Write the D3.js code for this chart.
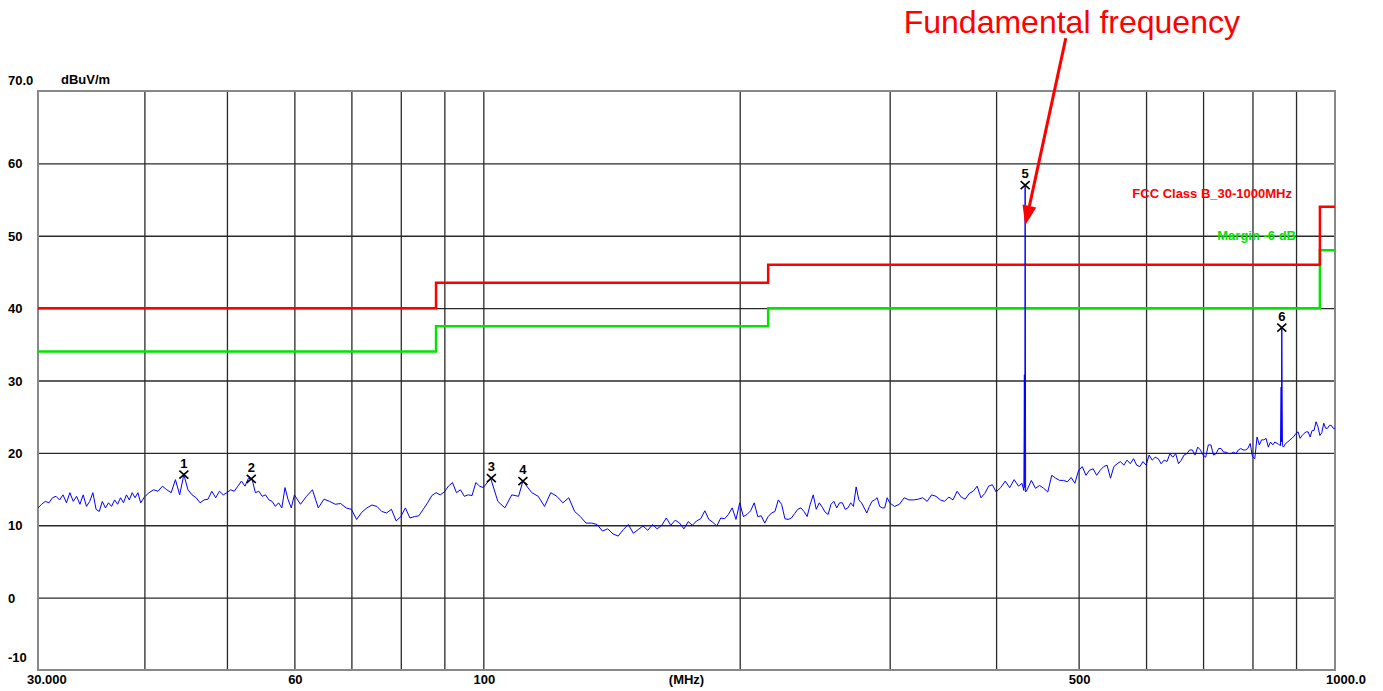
<!DOCTYPE html>
<html>
<head>
<meta charset="utf-8">
<script src="https://cdn.jsdelivr.net/npm/d3@7"></script>
<style>
    html, body { margin: 0; padding: 0; background: #fff; }
    svg { display: block; }
    .lbl { font-family: "Liberation Sans", Arial, sans-serif; font-weight: bold; font-size: 13px; fill: #000; }
</style>
</head>
<body>
<div id="chart"></div>
<script>
// ── Data ──

// vertical / horizontal grid
const gridFreqs = [40, 50, 60, 70, 80, 90, 100, 200, 300, 400, 500, 600, 700, 800, 900];
const gridLevels = [0, 10, 20, 30, 40, 50, 60];

// tick labels
const levelLabels = [60, 50, 40, 30, 20, 10, 0];
const freqLabelValues = [60, 100, 500];
const freqLabelText = ['60', '100', '500'];

// limit lines (MHz / dBuV/m)
const limitFreq = [30, 88, 88, 216, 216, 960, 960, 1000];
const limitDb   = [40, 40, 43.5, 43.5, 46, 46, 54, 54];
const marginDb  = [34, 34, 37.5, 37.5, 40, 40, 48, 48];

// peak markers
const markerIds  = ['1', '2', '3', '4', '5', '6'];
const markerFreq = [44.5, 53.4, 102.2, 111.3, 432.7, 866];
const markerDb   = [17.0, 16.4, 16.5, 16.1, 57.0, 37.3];

// annotation arrow: [MHz, dB]
const arrowFrom = [483, 77.3];
const arrowTo   = [432.7, 51.4];

// measured trace [MHz, dBuV/m]
const trace = [
    [30.0,12.4],[30.3,12.9],[30.6,13.3],[30.9,13.1],[31.2,13.8],[31.5,14.0],[31.8,13.5],[32.1,14.2],[32.4,13.1],[32.7,14.5],
    [33.0,13.3],[33.3,14.0],[33.6,12.9],[33.9,14.2],[34.2,12.6],[34.5,13.3],[34.8,14.5],[35.1,12.2],[35.4,11.9],[35.7,13.3],
    [36.0,12.4],[36.3,13.1],[36.6,12.6],[36.9,13.5],[37.2,12.9],[37.5,13.8],[37.8,13.1],[38.1,14.2],[38.4,13.5],[38.7,14.5],
    [39.0,13.8],[39.3,14.5],[39.6,13.1],[40.0,13.9],
    [40.5,14.5],[41.0,14.9],[41.5,14.7],[42.0,15.4],[42.5,14.9],[43.0,14.5],[43.5,16.3],[44.0,14.2],[44.5,17.0],[45.0,14.9],
    [45.5,14.2],[46.0,13.8],[46.5,13.1],[47.0,13.5],[47.5,13.6],[48.0,14.7],[48.5,13.8],[49.0,14.7],[49.5,14.2],[50.0,14.5],
    [50.5,14.9],[51.0,14.7],[51.5,15.4],[52.0,16.1],[52.5,15.4],[53.0,16.5],[53.5,16.4],[54.0,14.5],[54.5,14.7],[55.0,14.0],
    [55.5,14.2],[56.0,13.5],[56.5,13.3],[57.0,12.6],[57.5,13.1],[58.0,12.4],[58.5,15.2],[59.0,13.5],[59.5,12.4],[60.0,14.2],
    [61,12.9],[62,14.0],[63,14.9],[64,12.4],[65,13.6],[66,13.3],[67,12.9],[68,13.0],[69,12.4],[70,12.2],
    [71,10.8],[72,11.8],[73,12.4],[74,12.8],[75,12.6],[76,11.9],[77,11.7],[78,12.2],[79,10.6],[80,11.2],
    [81,12.4],[82,11.0],[83,11.2],[84,11.3],[85,12.2],[86,13.1],[87,14.1],[88,14.5],[89,14.2],[90,14.6],
    [91,15.4],[92,15.9],[93,14.5],[94,14.9],[95,14.0],[96,14.2],[97,14.1],[98,15.9],[99,15.4],[100,15.2],
    [102,16.5],[104,13.3],[106,12.4],[108,14.2],[110,14.0],[111.3,16.1],[114,14.5],[116,14.0],[118,12.6],[120,14.5],
    [122,14.0],[124,13.1],[126,13.8],[128,11.9],[130,11.2],[132,10.3],[134,10.3],[136,10.1],[138,9.2],[140,9.5],
    [142,8.8],[144,8.5],[146,9.4],[148,10.1],[150,8.9],[152,9.4],[154,9.9],[156,9.3],[158,10.1],[160,9.5],
    [162,10.0],[164,11.0],[166,10.0],[168,10.7],[170,10.3],[172,9.5],[174,10.5],[176,10.0],[178,10.6],[180,10.9],
    [182,12.0],[184,10.8],[186,10.4],[188,9.9],[190,11.0],[192,10.9],[194,11.5],[196,12.4],[198,10.8],[200,13.1],
    [202,11.2],[204,11.5],[206,12.0],[208,13.1],[210,11.2],[212,11.3],[214,10.3],[216,11.2],[218,11.7],[220,11.9],
    [222,13.5],[224,12.9],[226,10.9],[228,10.8],[230,11.0],[232,11.6],[234,12.2],[236,12.4],[238,11.9],[240,11.2],
    [242,12.9],[244,14.2],[246,12.2],[248,13.1],[250,12.5],[252,11.8],[254,11.5],[256,12.9],[258,13.3],[260,12.4],
    [262,13.1],[264,13.1],[266,12.2],[268,12.4],[270,13.1],[272,12.6],[274,15.3],[276,13.5],[278,13.1],[280,12.4],
    [282,11.7],[284,12.6],[286,13.3],[288,13.5],[290,13.8],[292,12.6],[294,12.4],[296,12.4],[298,13.8],[300,13.1],
    [304,12.6],[308,12.9],[312,13.8],[316,13.5],[320,13.5],
    [324,13.6],[328,13.8],[332,13.3],[336,14.2],[340,14.0],[344,13.5],[348,13.3],[352,13.9],[356,13.5],[360,14.7],
    [364,13.9],[368,13.6],[372,14.4],[376,14.7],[380,15.4],[384,13.8],[388,14.4],[392,15.4],[396,15.6],[400,14.6],
    [405,15.2],[410,16.1],[415,15.2],[420,16.3],[425,15.4],[429,15.8],[431.2,14.8],[431.8,30.8],[432.2,15.2],[432.7,57.0],
    [433.3,14.6],[435,14.9],[440,16.2],[445,15.1],[450,15.5],[455,15.1],[460,14.6],[465,16.9],[470,16.5],[475,16.2],
    [480,16.2],[485,16.0],[490,16.6],[495,15.8],[500,17.6],[505,18.1],[510,16.9],[515,17.6],[520,17.8],[525,16.9],
    [530,17.6],[535,18.1],[540,18.3],[545,16.5],[550,18.1],[555,18.5],[560,18.8],[565,18.3],[570,19.0],[575,18.5],
    [580,19.2],[585,18.3],[590,18.1],[595,18.8],[600,18.3],
    [605,19.7],[610,19.0],[615,19.4],[620,19.2],[625,18.5],[630,19.0],[635,18.8],[640,19.9],[645,19.4],[650,19.9],
    [655,18.5],[660,19.0],[665,19.7],[670,19.9],[675,20.4],[680,20.4],[685,19.7],[690,20.8],[695,20.4],[700,19.7],
    [705,19.4],[710,21.1],[715,21.1],[720,19.7],[725,19.9],[730,20.6],[735,20.6],[740,20.1],[745,20.1],[750,19.9],
    [755,19.9],[760,20.1],[765,19.9],[770,20.4],[775,20.6],[780,20.4],[785,20.4],[790,20.6],[795,21.3],[800,19.5],
    [805,19.2],[810,22.2],[815,21.1],[820,21.8],[825,21.8],[830,22.0],[835,20.8],[840,21.5],[845,21.1],[850,21.5],
    [858,21.2],[863,21.0],[864.5,29.1],[865,21.5],[866,37.3],[867.5,21.0],[870,20.8],[875,21.3],[880,21.5],[885,21.8],
    [890,22.0],[895,22.3],[900,22.7],[905,22.9],[910,22.0],[915,22.4],[920,22.7],[925,22.9],[930,22.9],[935,22.2],
    [940,23.1],[945,23.1],[950,24.3],[955,23.6],[960,22.4],[965,22.8],[970,24.1],[975,23.4],[980,23.4],[985,23.8],
    [990,23.8],[995,23.4],[1000,23.4]
];

// ── Layout ──
const W = 1383, H = 691;
const plot = { left: 38, right: 1335, top: 91, bottom: 670 };

const RED = '#ff0000';
const GREEN = '#00e400';

const svg = d3.select('#chart')
    .append('svg')
    .attr('width', W)
    .attr('height', H);

const x = d3.scaleLog().domain([30, 1000]).range([plot.left, plot.right]);
const y = d3.scaleLinear().domain([-10, 70]).range([plot.bottom, plot.top]);

svg.append('defs').append('clipPath').attr('id', 'plotClip')
    .append('rect')
    .attr('x', plot.left).attr('y', 0)
    .attr('width', plot.right - plot.left).attr('height', plot.bottom);

// Grid
const xGrid = svg.append('g')
    .attr('transform', `translate(0,${plot.bottom})`)
    .call(d3.axisBottom(x).tickValues(gridFreqs).tickSize(-(plot.bottom - plot.top)).tickFormat(''));
const yGrid = svg.append('g')
    .attr('transform', `translate(${plot.left},0)`)
    .call(d3.axisLeft(y).tickValues(gridLevels).tickSize(-(plot.right - plot.left)).tickFormat(''));
[xGrid, yGrid].forEach(gr => {
    gr.select('.domain').remove();
    gr.selectAll('line').attr('stroke', '#2a2a2a').attr('stroke-width', 1.3);
});

// Frame
svg.append('rect')
    .attr('x', plot.left).attr('y', plot.top)
    .attr('width', plot.right - plot.left).attr('height', plot.bottom - plot.top)
    .attr('fill', 'none').attr('stroke', '#888').attr('stroke-width', 2);

// Y labels
svg.selectAll('.ylab')
    .data(levelLabels)
    .join('text')
    .attr('class', 'lbl ylab')
    .attr('x', 8)
    .attr('y', d => y(d) + 5)
    .text(d => d);
svg.append('text').attr('class', 'lbl').attr('x', 8).attr('y', y(70) - 6).text('70.0');
svg.append('text').attr('class', 'lbl').attr('x', 8).attr('y', y(-10) - 8).text('-10');
svg.append('text').attr('class', 'lbl').attr('x', 61).attr('y', y(70) - 7).text('dBuV/m');

// X labels
const xLabY = plot.bottom + 14;
svg.selectAll('.xlab')
    .data(freqLabelValues)
    .join('text')
    .attr('class', 'lbl xlab')
    .attr('text-anchor', 'middle')
    .attr('x', d => x(d) + 1)
    .attr('y', xLabY)
    .text((d, i) => freqLabelText[i]);
svg.append('text').attr('class', 'lbl').attr('x', plot.left - 11).attr('y', xLabY).text('30.000');
svg.append('text').attr('class', 'lbl').attr('text-anchor', 'middle')
    .attr('x', x(1000) + 11).attr('y', xLabY).text('1000.0');
svg.append('text').attr('class', 'lbl').attr('text-anchor', 'middle')
    .attr('x', (plot.left + plot.right) / 2).attr('y', xLabY).text('(MHz)');

// Limit lines
const stepLine = d3.line().x(d => x(d[0])).y(d => y(d[1]));
svg.append('path')
    .datum(limitFreq.map((f, i) => [f, marginDb[i]]))
    .attr('d', stepLine)
    .attr('fill', 'none').attr('stroke', GREEN).attr('stroke-width', 2.5);
svg.append('path')
    .datum(limitFreq.map((f, i) => [f, limitDb[i]]))
    .attr('d', stepLine)
    .attr('fill', 'none').attr('stroke', RED).attr('stroke-width', 2.5);

// Trace
svg.append('path')
    .datum(trace)
    .attr('clip-path', 'url(#plotClip)')
    .attr('d', stepLine)
    .attr('fill', 'none').attr('stroke', '#0000ff').attr('stroke-width', 1);

// Line labels
svg.append('text').attr('class', 'lbl')
    .attr('text-anchor', 'end').attr('x', 1292).attr('y', 198)
    .style('fill', RED).text('FCC Class B_30-1000MHz');
svg.append('text').attr('class', 'lbl')
    .attr('text-anchor', 'end').attr('x', 1296).attr('y', 240)
    .style('fill', GREEN).text('Margin -6 dB');

// Markers
const mk = svg.selectAll('.marker')
    .data(markerIds)
    .join('g')
    .attr('class', 'marker')
    .attr('transform', (d, i) => `translate(${x(markerFreq[i])},${y(markerDb[i])})`);
mk.append('path')
    .attr('d', 'M-4.5,-4L4.5,4M-4.5,4L4.5,-4')
    .attr('stroke', '#000').attr('stroke-width', 1.6);
mk.append('text')
    .attr('class', 'lbl')
    .attr('text-anchor', 'middle')
    .attr('y', -7)
    .style('font-size', '13px')
    .text(d => d);

// Annotation
const ax1 = x(arrowFrom[0]), ay1 = y(arrowFrom[1]);
const ax2 = x(arrowTo[0]), ay2 = y(arrowTo[1]);
const len = Math.hypot(ax2 - ax1, ay2 - ay1);
const ux = (ax2 - ax1) / len, uy = (ay2 - ay1) / len;
const headLen = 20, headHalf = 7;
const bx = ax2 - ux * headLen, by = ay2 - uy * headLen;
svg.append('line')
    .attr('x1', ax1).attr('y1', ay1).attr('x2', bx).attr('y2', by)
    .attr('stroke', RED).attr('stroke-width', 3);
svg.append('path')
    .attr('d', `M${ax2},${ay2}L${bx - uy * headHalf},${by + ux * headHalf}L${bx + uy * headHalf},${by - ux * headHalf}Z`)
    .attr('fill', RED);
svg.append('text')
    .attr('x', ax1 + 6).attr('y', 33)
    .attr('text-anchor', 'middle')
    .style('font-family', '"Liberation Sans", Arial, sans-serif')
    .style('font-size', '32px')
    .style('fill', RED)
    .text('Fundamental frequency');
</script>
</body>
</html>
